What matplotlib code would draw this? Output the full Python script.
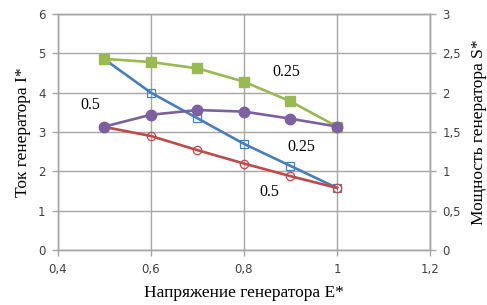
import matplotlib
matplotlib.use("Agg")
import matplotlib.pyplot as plt
from matplotlib.ticker import FuncFormatter

# Напряжение генератора E*
voltage = [0.5, 0.6, 0.7, 0.8, 0.9, 1.0]

# Ток генератора I* (левая ось)
current_025 = [4.85, 4.00, 3.35, 2.70, 2.14, 1.58]
current_05 = [3.13, 2.90, 2.54, 2.20, 1.88, 1.58]

# Мощность генератора S* (правая ось)
power_025 = [2.43, 2.39, 2.31, 2.14, 1.89, 1.57]
power_05 = [1.57, 1.72, 1.78, 1.76, 1.67, 1.57]

GRID = "#a6a6a6"
SERIF = "Liberation Serif"


def comma(v, pos):
    s = f"{v:g}"
    return s.replace(".", ",")


fig = plt.figure(figsize=(4.87, 3.05), dpi=100)
ax = fig.add_axes([0.119, 0.180, 0.764, 0.774])
ax2 = ax.twinx()

ax.plot(voltage, current_025, color="#4a7ebb", lw=1.9, marker="s", ms=6,
        mfc="none", mec="#4a7ebb", mew=0.9)
ax.plot(voltage, current_05, color="#be4b48", lw=1.9, marker="o", ms=6,
        mfc="none", mec="#be4b48", mew=0.9)

ax2.plot(voltage, power_025, color="#98b954", lw=1.9, marker="s", ms=7)
ax2.plot(voltage, power_05, color="#7d60a0", lw=1.9, marker="o", ms=7.5)

ax.set_xlim(0.4, 1.2)
ax.set_ylim(0, 6)
ax2.set_ylim(0, 3)
ax.set_xticks([0.4, 0.6, 0.8, 1.0, 1.2])
ax.set_yticks(range(0, 7))
ax2.set_yticks([0, 0.5, 1, 1.5, 2, 2.5, 3])
for a in (ax, ax2):
    a.xaxis.set_major_formatter(FuncFormatter(comma))
    a.yaxis.set_major_formatter(FuncFormatter(comma))
    a.tick_params(colors=GRID, labelcolor="#404040", labelsize=8.5,
                  length=4, width=1, pad=5)
    for sp in a.spines.values():
        sp.set_color(GRID)
        sp.set_linewidth(1)

ax.grid(True, color=GRID, lw=1)
ax.set_axisbelow(True)

ax.set_xlabel("Напряжение генератора E*", family=SERIF, fontsize=12.5,
              labelpad=7)
ax.set_ylabel("Ток генератора I*", family=SERIF, fontsize=12.5, labelpad=5)
ax2.set_ylabel("Мощность генератора S*", family=SERIF, fontsize=12.5,
               labelpad=7)

ax.text(0.892, 4.53, "0.25", family=SERIF, fontsize=11.5, ha="center",
        va="center")
ax.text(0.469, 3.69, "0.5", family=SERIF, fontsize=11.5, ha="center",
        va="center")
ax.text(0.924, 2.63, "0.25", family=SERIF, fontsize=11.5, ha="center",
        va="center")
ax.text(0.854, 1.48, "0.5", family=SERIF, fontsize=11.5, ha="center",
        va="center")

plt.savefig("out.png", dpi=100)
